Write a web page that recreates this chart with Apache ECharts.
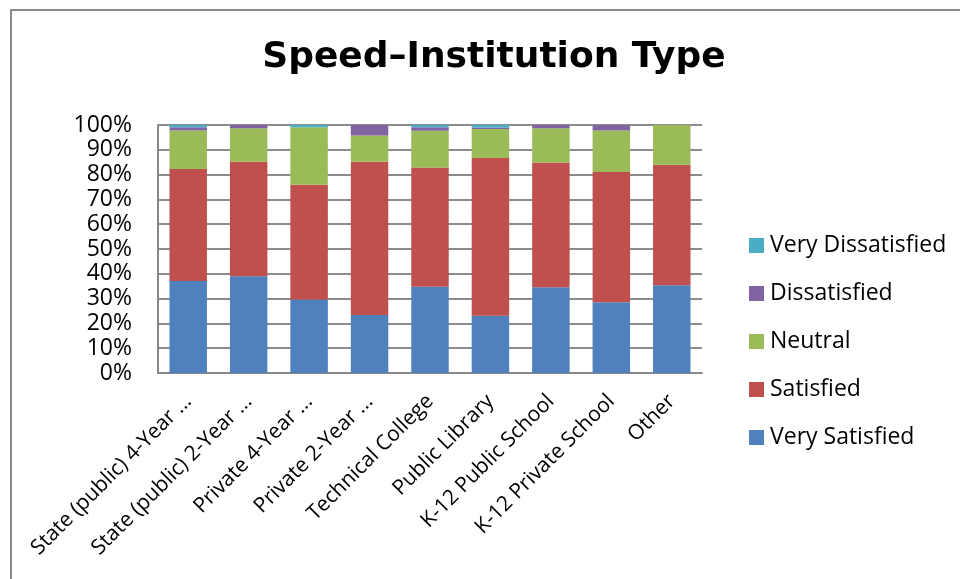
<!DOCTYPE html>
<html>
<head>
<meta charset="utf-8">
<script src="https://cdn.jsdelivr.net/npm/echarts@6/dist/echarts.min.js"></script>
<style>html,body{margin:0;padding:0;background:#fff}#c{width:960px;height:579px}</style>
</head>
<body>
<div id="c"></div>
<script>
const categories = ["State (public) 4-Year ...", "State (public) 2-Year ...", "Private 4-Year ...", "Private 2-Year ...", "Technical College", "Public Library", "K-12 Public School", "K-12 Private School", "Other"];
const verySatisfied = [37.1, 39.0, 29.6, 23.4, 34.8, 23.1, 34.6, 28.5, 35.4];
const satisfied = [45.2, 46.2, 46.3, 61.8, 48.1, 63.6, 50.3, 52.5, 48.6];
const neutral = [15.5, 13.5, 23.2, 10.6, 14.8, 11.7, 13.8, 16.8, 16.0];
const dissatisfied = [1.3, 1.3, 0, 4.2, 1.4, 0.6, 1.3, 2.2, 0];
const veryDissatisfied = [0.9, 0, 0.9, 0, 0.9, 1.0, 0, 0, 0];
const yTicks = [0, 10, 20, 30, 40, 50, 60, 70, 80, 90, 100];

const FONT = '"Open Sans", sans-serif';
const chart = echarts.init(document.getElementById('c'));
const mk = (name, data, color) => ({
  name, type: 'bar', stack: 'all', data, barCategoryGap: '38%',
  itemStyle: { color }, emphasis: { disabled: true }
});
chart.setOption({
  animation: false,
  textStyle: { fontFamily: FONT },
  title: {
    text: 'Speed\u2013Institution Type', left: 489, top: 35, textAlign: 'center',
    textStyle: { fontSize: 36, fontWeight: 'bold', color: '#000', fontFamily: '"DejaVu Sans", sans-serif' }
  },
  graphic: [{
    type: 'rect', shape: { x: 11, y: 10, width: 1000, height: 1000 },
    style: { fill: 'none', stroke: '#898989', lineWidth: 2 }, silent: true
  }],
  legend: {
    orient: 'vertical', left: 744, top: 229, itemWidth: 15, itemHeight: 15, itemGap: 25,
    icon: 'rect',
    data: ['Very Dissatisfied', 'Dissatisfied', 'Neutral', 'Satisfied', 'Very Satisfied'],
    textStyle: { fontSize: 23, color: '#000', fontFamily: FONT, padding: [0, 0, 0, 1] }
  },
  grid: { left: 158, right: 258, top: 125, bottom: 206 },
  xAxis: {
    type: 'category', data: categories,
    axisLine: { lineStyle: { color: '#898989', width: 2 } },
    axisTick: { show: false },
    axisLabel: { rotate: 45, fontSize: 21, color: '#000', margin: 25, interval: 0 }
  },
  yAxis: {
    type: 'value', min: 0, max: 100, interval: 10,
    axisLine: { show: true, lineStyle: { color: '#898989', width: 2 } },
    splitLine: { lineStyle: { color: '#8c8c8c', width: 2 } },
    axisTick: { show: false },
    axisLabel: { fontSize: 23, color: '#000', margin: 26,
      formatter: v => yTicks.includes(v) ? v + '%' : '' }
  },
  series: [
    mk('Very Satisfied', verySatisfied, '#4F81BD'),
    mk('Satisfied', satisfied, '#C0504D'),
    mk('Neutral', neutral, '#9BBB59'),
    mk('Dissatisfied', dissatisfied, '#8064A2'),
    mk('Very Dissatisfied', veryDissatisfied, '#4BACC6')
  ]
});
</script>
</body>
</html>
